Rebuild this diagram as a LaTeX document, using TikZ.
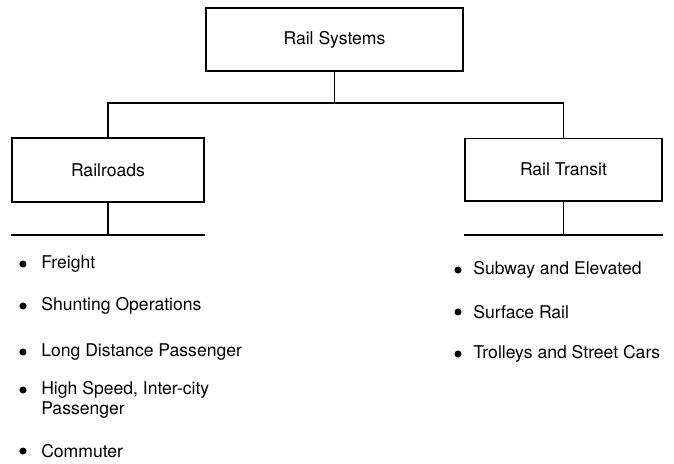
\documentclass[tikz,border=0pt]{standalone}
\usepackage{fontspec}
\setmainfont{TeX Gyre Heros}
\usepackage{tikz}
\usetikzlibrary{positioning,calc}

\begin{document}
\begin{tikzpicture}[
  x=0.025cm, y=-0.025cm,
  every node/.style={font=\fontsize{12.5}{14.2}\selectfont},
  box/.style={draw, line width=1.4pt, inner sep=0pt},
  link/.style={line width=1.4pt},
  dot/.style={circle, fill, inner sep=0pt, minimum size=5pt},
  item/.style={anchor=west, inner sep=0pt, align=left}
]
\useasboundingbox (0,0) rectangle (674,463);

% boxes
\node[box, minimum width=6.42cm, minimum height=1.57cm] (sys) at (334.5,39.5) {Rail Systems};
\node[box, minimum width=4.8cm, minimum height=1.6cm] (rr) at (108,170) {Railroads};
\node[box, minimum width=4.92cm, minimum height=1.55cm] (tr) at (563.5,169.5) {Rail Transit};

% tree lines
\coordinate (bus) at (334.5,103);
\draw[link] (sys.south) -- (bus);
\draw[link] (rr.north) -- (rr.north |- bus) -- (tr.north |- bus) -- (tr.north);

\coordinate (rrbar) at (108,235);
\coordinate (trbar) at (563.5,235);
\draw[link] (rr.south) -- (rrbar);
\draw[link] (rrbar -| rr.west) -- (rrbar -| rr.east);
\draw[link] (tr.south) -- (trbar);
\draw[link] (trbar -| tr.west) -- (trbar -| tr.east);

% railroads list
\foreach \name/\y/\txt in {frt/264/Freight, shu/306/Shunting Operations,
    lng/352/Long Distance Passenger, com/451/Commuter} {
  \node[dot] (d\name) at (23,\y) {};
  \node[item] (\name) at (41,\y) {\txt};
}
\node[dot] (dhsp) at (23,390) {};
\node[item] (hsp) at (41,400) {High Speed, Inter-city\\Passenger};

% rail transit list
\foreach \name/\y/\txt in {sub/270/Subway and Elevated, sfc/312/Surface Rail,
    trl/354/Trolleys and Street Cars} {
  \node[dot] (d\name) at (458,\y) {};
  \node[item] (\name) at (473,\y) {\txt};
}
\end{tikzpicture}
\end{document}
